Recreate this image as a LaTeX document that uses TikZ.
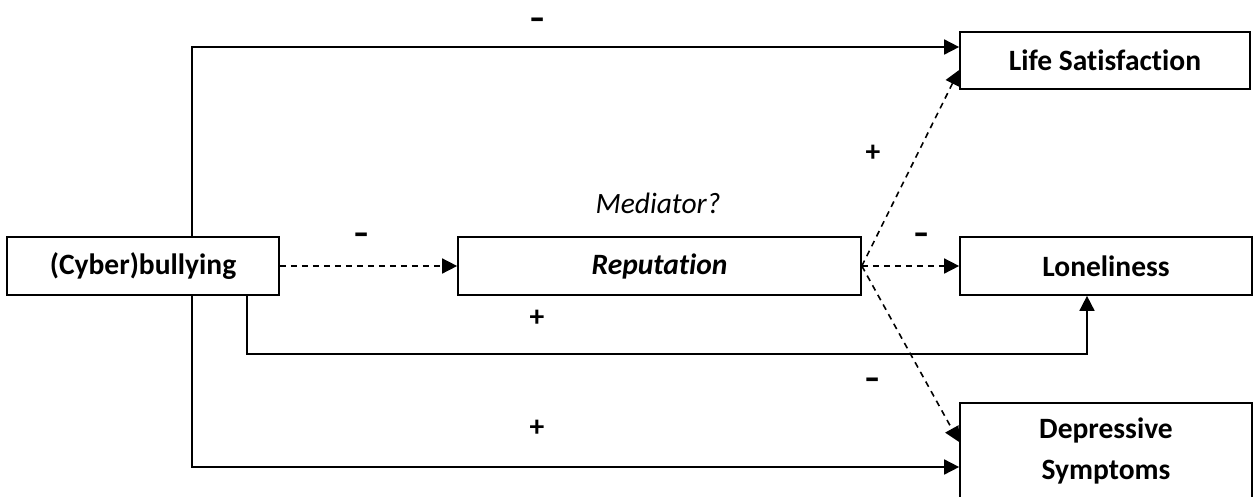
\documentclass[tikz,border=0pt]{standalone}
\usepackage{fontspec}
\setmainfont{Carlito}[Ligatures=NoCommon]
\usetikzlibrary{arrows.meta}
\newcommand{\minussign}{\scalebox{1.1}[1.4]{–}}
\begin{document}
\begin{tikzpicture}[x=1pt,y=-1pt,
  box/.style={draw, line width=1.7pt, font=\bfseries\fontsize{29.5}{40}\selectfont,
              inner sep=0pt, align=center},
  sign/.style={font=\bfseries\fontsize{29.5}{40}\selectfont, inner sep=0pt},
  tip/.style={-{Triangle[length=15pt,width=15pt]}},
  solidarrow/.style={line width=1.7pt, tip},
  dashedarrow/.style={line width=1.6pt, dash pattern=on 6pt off 5pt, tip}]
\useasboundingbox (0,0) rectangle (1254,496);

% variables
\node[box, minimum width=272pt, minimum height=58pt] (cb) at (143,266) {(Cyber)bullying};
\node[box, minimum width=403pt, minimum height=58pt] (rep) at (659.5,266) {\itshape Reputation};
\node[box, minimum width=290pt, minimum height=57pt] (ls) at (1105,60.5) {Life Satisfaction};
\node[box, minimum width=292pt, minimum height=58pt] (lon) at (1106,266) {Loneliness};
\node[box, minimum width=292pt, minimum height=95pt] (dep) at (1106,450.5) {\raisebox{-17pt}{\shortstack{Depressive\\[14pt]Symptoms}}};

% direct paths
\draw[solidarrow] ([xshift=49pt]cb.north) |- ([yshift=13.5pt]ls.west);
\draw[solidarrow] ([xshift=49pt]cb.south) |- ([yshift=-16.5pt]dep.west);
\coordinate (lk) at (1087,354);
\draw[solidarrow] ([xshift=104pt]cb.south) |- (lk) -- ([xshift=-19pt]lon.south);

% mediated paths
\draw[dashedarrow] (cb.east) -- (rep.west);
\draw[dashedarrow] (rep.east) -- ([yshift=-9.5pt]ls.west);
\draw[dashedarrow] (rep.east) -- (lon.west);
\draw[dashedarrow] (rep.east) -- ([yshift=8.5pt]dep.west);

% labels
\node[font=\itshape\fontsize{29.5}{40}\selectfont, inner sep=0pt] (med) at (658,203) {Mediator?};
\node[sign] (s1) at (538,25) {\minussign};
\node[sign] (s2) at (362,240) {\minussign};
\node[sign] (s3) at (873,153) {+};
\node[sign] (s4) at (922,240) {\minussign};
\node[sign] (s5) at (537,318) {+};
\node[sign] (s6) at (873,385) {\minussign};
\node[sign] (s7) at (537,428) {+};
\end{tikzpicture}
\end{document}
